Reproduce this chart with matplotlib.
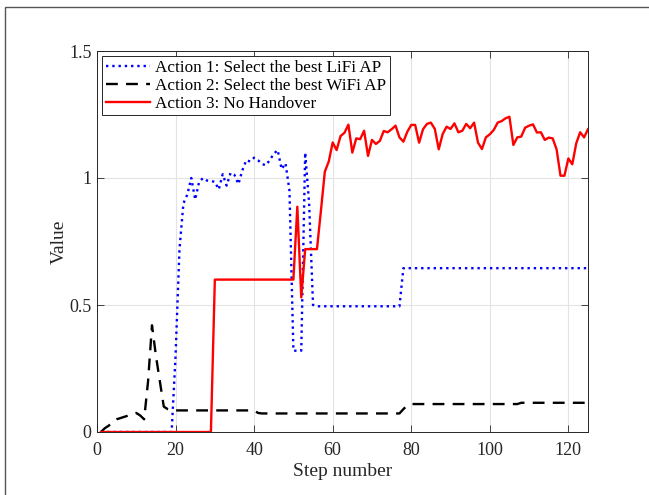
import numpy as np
import matplotlib
matplotlib.use("Agg")
import matplotlib.pyplot as plt
from matplotlib.patches import Rectangle

plt.rcParams['font.family'] = ['Liberation Serif', 'DejaVu Serif']

steps = np.arange(1, 126)

# Action 1: Select the best LiFi AP
lifi = ([0.0] * 19 +
        [0.3, 0.72, 0.90, 0.935, 1.0, 0.915, 0.985, 1.0, 0.99, 0.988,
         0.985, 0.955, 1.015, 0.97, 1.02, 1.012, 0.976, 1.03, 1.07, 1.065,
         1.08, 1.07, 1.055, 1.05, 1.071, 1.095, 1.11, 1.035, 1.058, 0.95,
         0.32, 0.32, 0.32, 1.1, 0.9, 0.5] +
        [0.495] * 22 +
        [0.645] * 48)

# Action 2: Select the best WiFi AP
wifi = ([0.0, 0.015, 0.025, 0.04, 0.05, 0.055, 0.06, 0.065, 0.07, 0.075,
         0.065, 0.05, 0.2, 0.42, 0.3, 0.2, 0.1, 0.09, 0.085] +
        [0.085] * 21 +
        [0.075] +
        [0.073] * 36 +
        [0.09, 0.105] +
        [0.11] * 28 +
        [0.115] * 18)

# Action 3: No Handover
no_ho = ([0.0] * 29 +
         [0.6] * 21 +
         [0.887, 0.53, 0.72, 0.72, 0.72, 0.72, 0.87, 1.025, 1.065, 1.14,
          1.11, 1.165, 1.178, 1.21, 1.10, 1.156, 1.153, 1.186, 1.087, 1.15,
          1.134, 1.146, 1.185, 1.18, 1.192, 1.206, 1.16, 1.143, 1.182, 1.209,
          1.209, 1.139, 1.192, 1.213, 1.218, 1.193, 1.113, 1.173, 1.202, 1.193,
          1.215, 1.18, 1.186, 1.213, 1.196, 1.218, 1.139, 1.114, 1.16, 1.172,
          1.189, 1.218, 1.224, 1.235, 1.241, 1.13, 1.16, 1.163, 1.198, 1.206,
          1.211, 1.179, 1.18, 1.15, 1.159, 1.156, 1.113, 1.009, 1.009, 1.077,
          1.054, 1.136, 1.18, 1.16, 1.192])

labels = ['Action 1: Select the best LiFi AP',
          'Action 2: Select the best WiFi AP',
          'Action 3: No Handover']

fig = plt.figure(figsize=(6.49, 4.95), dpi=100)
ax = fig.add_axes([97 / 649, 1 - 432 / 495, 491 / 649, 381 / 495])

ax.plot(steps, lifi, ':', color='blue', lw=1.7, label=labels[0])
ax.plot(steps, wifi, color='black', lw=1.7, linestyle=(0, (5, 3.5)), label=labels[1])
ax.plot(steps, no_ho, '-', color='red', lw=1.7, label=labels[2])

ax.set_xlim(0, 125)
ax.set_ylim(0, 1.5)
ax.set_xticks([0, 20, 40, 60, 80, 100, 120])
ax.set_yticks([0, 0.5, 1, 1.5])
ax.set_yticklabels(['0', '0.5', '1', '1.5'])
ax.grid(True, color='#e3e3e3', lw=0.8)
ax.set_axisbelow(True)
ax.tick_params(direction='in', top=True, right=True, labelsize=13,
               color='#262626', length=5, width=0.6, labelcolor='#262626')
ax.tick_params(axis='x', pad=7)
ax.tick_params(axis='y', pad=4)
for s in ax.spines.values():
    s.set_color('#262626')
    s.set_linewidth(0.7)

ax.set_xlabel('Step number', fontsize=14, labelpad=3, color='#262626')
ax.set_ylabel('Value', fontsize=14, labelpad=1, color='#262626')

leg = ax.legend(loc='upper left', fontsize=12.3, handlelength=2.6,
                handletextpad=0.3, labelspacing=0.12, borderpad=0.2,
                borderaxespad=0.3, fancybox=False, framealpha=1)
leg.get_frame().set_edgecolor('#262626')
leg.get_frame().set_linewidth(0.7)

# figure border
fig.patches.append(Rectangle((5 / 649, -0.1), 1.1, 1 - 7 / 495 + 0.1,
                             transform=fig.transFigure, fill=False,
                             edgecolor='#555555', lw=1.0, clip_on=False))

fig.savefig('out.png', dpi=100)
